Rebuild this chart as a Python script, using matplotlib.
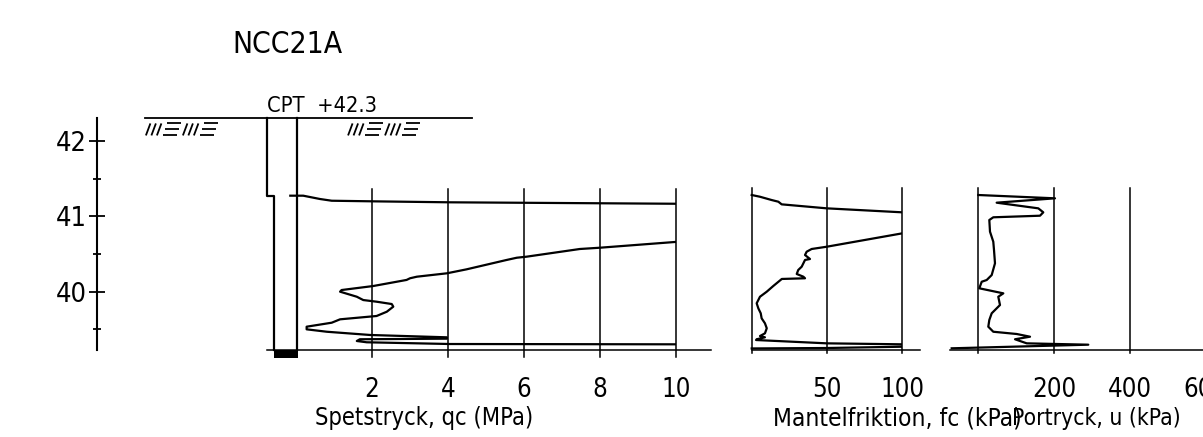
import matplotlib
matplotlib.use('Agg')
import matplotlib.pyplot as plt
from matplotlib import font_manager
from matplotlib.ticker import FixedLocator

# narrow drafting-style lettering: use a narrow/condensed face if one is installed
names = {(f.name, f.stretch) for f in font_manager.fontManager.ttflist}
if any(n == 'Liberation Sans Narrow' for n, _ in names):
    plt.rcParams['font.family'] = ['Liberation Sans Narrow', 'DejaVu Sans']
elif ('DejaVu Sans', 'condensed') in names or ('DejaVu Sans', 'semi-condensed') in names:
    plt.rcParams['font.family'] = ['DejaVu Sans']
    plt.rcParams['font.stretch'] = 'condensed'
else:
    plt.rcParams['font.family'] = ['DejaVu Sans']

ground_level = 42.3
casing_level = 41.27
end_level = 39.22

qc_elev = [41.274, 41.274, 41.230, 41.207, 41.199, 41.186, 41.167, 41.16, 41.0,
           40.85, 40.73, 40.659, 40.583, 40.566, 40.464, 40.450, 40.420, 40.296,
           40.243, 40.198, 40.177, 40.155, 40.074, 40.021, 39.999, 39.932, 39.888,
           39.866, 39.835, 39.800, 39.733, 39.676, 39.632, 39.587, 39.534, 39.499,
           39.467, 39.424, 39.393, 39.375, 39.367, 39.344, 39.327, 39.304, 39.300,
           39.298]
qc_mpa = [-0.15, 0.19, 0.63, 0.94, 2.03, 4.05, 9.97, 12.5, 15.2,
          14.1, 12.0, 9.97, 8.0, 7.47, 6.07, 5.81, 5.54, 4.49,
          3.97, 3.18, 3.0, 2.91, 2.03, 1.20, 1.16, 1.60, 1.77,
          2.12, 2.52, 2.56, 2.39, 2.12, 1.16, 0.94, 0.28, 0.28,
          0.81, 1.95, 3.97, 3.97, 1.68, 1.60, 1.86, 4.05, 9.97,
          11.5]

fc_elev = [41.283, 41.26, 41.216, 41.194, 41.159, 41.106, 41.053, 41.0, 40.9,
           40.80, 40.774, 40.596, 40.566, 40.530, 40.486, 40.433, 40.420, 40.331,
           40.287, 40.234, 40.198, 40.177, 40.168, 40.074, 39.999, 39.932, 39.845,
           39.778, 39.712, 39.645, 39.579, 39.513, 39.446, 39.410, 39.393, 39.367,
           39.357, 39.313, 39.300, 39.29, 39.275, 39.268, 39.251, 39.245]
fc_kpa = [0, 5.5, 13.3, 17.7, 19.9, 49.8, 100, 130, 150,
          125, 100, 49.8, 39.8, 36.5, 35.4, 38.7, 35.4, 33.2,
          30.9, 29.9, 34.3, 35.4, 20.0, 14.3, 10.0, 5.5, 3.3,
          4.4, 6.0, 6.6, 8.8, 10.0, 8.8, 5.5, 8.8, 3.3,
          2.9, 49.8, 100, 115, 115, 100, 49.8, 0]

u_elev = [41.283, 41.239, 41.181, 41.106, 41.053, 41.008, 40.987, 40.951, 40.796,
          40.663, 40.552, 40.376, 40.220, 40.154, 40.131, 40.044, 39.977, 39.932,
          39.822, 39.712, 39.623, 39.534, 39.467, 39.437, 39.401, 39.367, 39.313,
          39.295, 39.247]
u_kpa = [0, 202.6, 48.5, 158.5, 171.7, 163, 39.6, 29.1, 30.9,
         39.6, 41.5, 44.1, 35.4, 22.2, 9.0, 2.6, 66.1, 52.8,
         57.3, 35.4, 29.1, 26.4, 39.6, 101.5, 136.6, 97, 127.9,
         290.6, -70.3]

qc_ticks = [2, 4, 6, 8, 10]
fc_ticks = [50, 100]
u_ticks = [200, 400, 600]
elev_major = [40, 41, 42]
elev_minor = [39.5, 40.5, 41.5]

W, H = 1203, 437
ELEV_TOP, ELEV_BOT = 43.873, 38.069

fig = plt.figure(figsize=(W / 100, H / 100), dpi=100)
renderer = fig.canvas.get_renderer()


def panel(zero_px, px_per_unit, xmin, xmax):
    left = zero_px + xmin * px_per_unit
    width = (xmax - xmin) * px_per_unit
    ax = fig.add_axes([left / W, 0, width / W, 1])
    ax.set_xlim(xmin, xmax)
    ax.set_ylim(ELEV_BOT, ELEV_TOP)
    ax.axis('off')
    return ax


def fit(t, target_w, size):
    # shrink a text towards the width it has in the drawing, but not too far
    t.set_fontsize(size)
    w = t.get_window_extent(renderer).width
    t.set_fontsize(max(0.78 * size, min(size, size * target_w / w)))
    return t


LW = 1.6
GRID_LW = 1.1
TICK_Y = 38.60
LABEL_Y = 38.228
TICK_FS = 18.5
LABEL_FS = 17.8

# --- elevation ruler ---
ax_el = fig.add_axes([97 / W, 0, 10 / W, 1])
ax_el.set_ylim(ELEV_BOT, ELEV_TOP)
ax_el.patch.set_visible(False)
for s in ['top', 'right', 'bottom']:
    ax_el.spines[s].set_visible(False)
ax_el.spines['left'].set_bounds(end_level, ground_level + 0.01)
ax_el.spines['left'].set_linewidth(1.5)
ax_el.set_xticks([])
ax_el.yaxis.set_major_locator(FixedLocator(elev_major))
ax_el.yaxis.set_minor_locator(FixedLocator(elev_minor))
ax_el.set_yticklabels([str(v) for v in elev_major])
ax_el.tick_params(axis='y', which='major', direction='inout', length=12,
                  width=1.3, pad=1.5, labelsize=19.5)
ax_el.tick_params(axis='y', which='minor', direction='inout', length=6,
                  width=1.3)

# --- cone resistance panel ---
ax_qc = panel(296, 38.0, -0.8, 10)
for v in qc_ticks:
    ax_qc.plot([v, v], [39.13, 41.363], color='black', lw=GRID_LW, clip_on=False)
    ax_qc.text(v, TICK_Y, str(v), ha='center', va='baseline', fontsize=TICK_FS)
ax_qc.plot([-0.76, 10.92], [end_level, end_level], color='black', lw=GRID_LW,
           clip_on=False)
ax_qc.plot(qc_mpa, qc_elev, color='black', lw=LW)
fit(ax_qc.text(0.5, LABEL_Y, 'Spetstryck, qc (MPa)', ha='left',
               va='baseline'), 218, LABEL_FS)

# rod, casing and tip
rod_l_upper, rod_l_lower = -0.76, -0.57
ax_qc.plot([rod_l_upper, rod_l_upper, rod_l_lower, rod_l_lower],
           [ground_level, casing_level, casing_level, end_level],
           color='black', lw=LW, clip_on=False)
ax_qc.plot([0.02, 0.02], [ground_level, end_level], color='black', lw=LW,
           clip_on=False)
ax_qc.fill_between([rod_l_lower, 0.05], end_level - 0.1, end_level,
                   color='black', lw=0, clip_on=False)

# ground surface
ax_qc.plot([-3.97, 4.63], [ground_level, ground_level], color='black',
           lw=1.3, clip_on=False)
fit(ax_qc.text(rod_l_upper, 42.385, 'CPT  +42.3', ha='left', va='baseline'),
    110, 16.8)
fit(ax_qc.text(-1.68, 43.169, 'NCC21A', ha='left', va='baseline'), 106, 27.6)


def ground_hatch(ax, x0):
    # ///= ///= symbol, drawn in pixel units
    sx, sy = 1 / 38.0, 1 / 75.3
    y_hi, y_lo = ground_level - 5 * sy, ground_level - 17 * sy
    for rep in range(2):
        o = x0 + rep * 37 * sx
        for k in range(3):
            b = o + k * 5.5 * sx
            ax.plot([b, b + 4.5 * sx], [y_lo, y_hi], color='black', lw=1.3,
                    clip_on=False, solid_capstyle='butt')
        for r, yy in enumerate([y_hi, (y_hi + y_lo) / 2, y_lo]):
            a = o + (21 - 2 * r) * sx
            ax.plot([a, a + 14 * sx], [yy, yy], color='black', lw=1.3,
                    clip_on=False, solid_capstyle='butt')


ground_hatch(ax_qc, -3.95)
ground_hatch(ax_qc, 1.37)

# --- sleeve friction panel ---
ax_fc = panel(751.7, 1.506, -2, 100)
for v in [0] + fc_ticks:
    ax_fc.plot([v, v], [39.185, 41.376], color='black', lw=GRID_LW, clip_on=False)
for v in fc_ticks:
    ax_fc.text(v, TICK_Y, str(v), ha='center', va='baseline', fontsize=TICK_FS)
ax_fc.plot([0, 111.9], [end_level, end_level], color='black', lw=GRID_LW,
           clip_on=False)
ax_fc.plot(fc_kpa, fc_elev, color='black', lw=LW)
fit(ax_fc.text(14.1, LABEL_Y, 'Mantelfriktion, fc (kPa)', ha='left',
               va='baseline'), 249, LABEL_FS)

# --- pore pressure panel ---
ax_u = panel(978.3, 0.3785, -80, 600)
for v in [0] + u_ticks:
    ax_u.plot([v, v], [39.185, 41.376], color='black', lw=GRID_LW, clip_on=False)
for v in u_ticks:
    ax_u.text(v, TICK_Y, str(v), ha='center', va='baseline', fontsize=TICK_FS)
ax_u.plot([-75, 640], [end_level, end_level], color='black', lw=GRID_LW,
          clip_on=False)
ax_u.plot(u_kpa, u_elev, color='black', lw=LW)
fit(ax_u.text(89, LABEL_Y, 'Portryck, u (kPa)', ha='left', va='baseline'),
    168, LABEL_FS)

fig.savefig('out.png', dpi=100)
